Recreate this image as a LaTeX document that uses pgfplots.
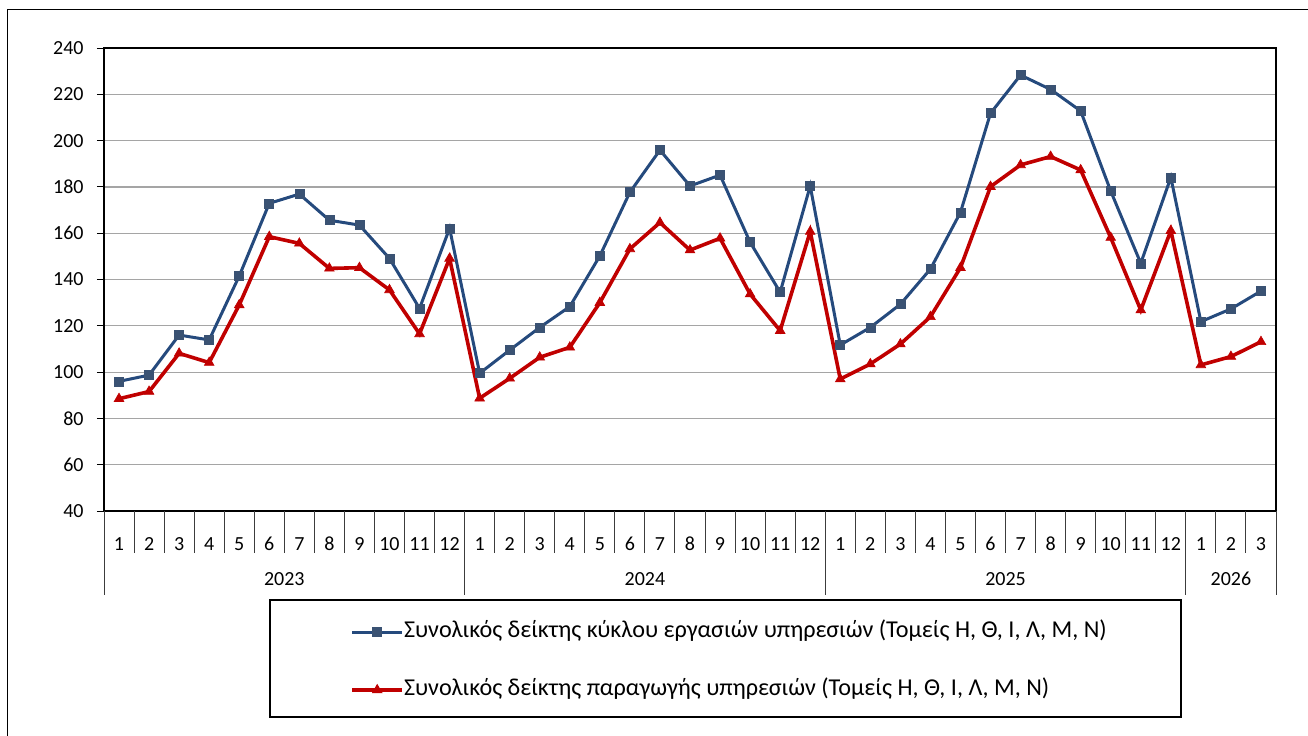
\documentclass[border=0pt]{standalone}
\usepackage{fontspec}
\setmainfont{Carlito}
\usepackage{pgfplots}
\pgfplotsset{compat=1.18}
\definecolor{lblue}{RGB}{37,74,125}
\definecolor{mblue}{RGB}{58,82,115}
\definecolor{lred}{RGB}{192,0,0}
\definecolor{gridc}{RGB}{165,165,165}
\definecolor{sepc}{RGB}{60,60,60}

\pgfplotstableread{
x blue red
0 96.0 88.5
1 98.7 91.6
2 116.0 108.1
3 113.9 104.1
4 141.5 129.0
5 172.9 158.5
6 176.9 155.6
7 165.6 144.8
8 163.5 145.1
9 149.1 135.5
10 127.5 116.5
11 162.1 149.1
12 99.5 88.7
13 109.5 97.3
14 119.3 106.4
15 128.3 110.7
16 150.2 130.0
17 177.7 153.2
18 195.9 164.6
19 180.4 152.7
20 185.1 157.8
21 156.1 133.7
22 134.5 117.9
23 180.4 160.7
24 111.7 97.0
25 119.3 103.5
26 129.3 112.1
27 144.5 123.9
28 169.0 145.1
29 211.8 180.1
30 228.3 189.5
31 222.1 193.1
32 212.8 187.3
33 178.2 158.1
34 147.0 126.8
35 184.1 161.1
36 121.8 103.1
37 127.3 106.7
38 135.0 113.1
}\datatable

\begin{document}
\begin{tikzpicture}
\useasboundingbox (0,0) rectangle (654pt,367.5pt);
\draw[black, line width=0.5pt] (3.5pt,-1pt) -- (3.5pt,362.5pt) -- (655pt,362.5pt);
\draw[black, line width=0.6pt] (135pt,9pt) rectangle (590.5pt,67.5pt);
\begin{axis}[
  at={(52pt,112pt)}, anchor=south west,
  scale only axis, width=586pt, height=231.5pt,
  xmin=-0.5, xmax=38.5, ymin=40, ymax=240,
  ytick={40,60,...,240},
  xtick={0,...,38},
  xticklabels={1,2,3,4,5,6,7,8,9,10,11,12,1,2,3,4,5,6,7,8,9,10,11,12,1,2,3,4,5,6,7,8,9,10,11,12,1,2,3},
  tick align=outside,
  major tick length=3.5pt,
  xtick style={draw=none},
  ytick style={black, line width=0.5pt},
  xtick pos=bottom, ytick pos=left,
  ymajorgrids,
  grid style={gridc, line width=0.6pt},
  axis line style={black, line width=1.4pt},
  /pgf/number format/assume math mode=true,
  tick label style={font=\fontsize{10}{12}\selectfont},
  yticklabel style={anchor=east, inner sep=0pt, xshift=-6.5pt},
  xticklabel style={anchor=base, inner sep=0pt, yshift=-16.25pt},
  clip=false,
  legend cell align=left,
  legend image code/.code={\draw[mark repeat=2,mark phase=2,#1] plot coordinates {(0pt,0pt) (12.5pt,0pt) (25pt,0pt)};},
  legend style={draw=none, fill=none, inner sep=0pt, at={(0.2099,-0.3240)}, anchor=west,
    row sep=17pt, column sep=0pt,
    nodes={inner sep=0pt, text height=8.7pt, text depth=3.3pt, font=\fontsize{12.1}{14}\selectfont}},
]
\addplot[lblue, line width=1.5pt, mark=square*, mark size=2.25pt, mark options={fill=mblue, draw=mblue, line width=0.3pt}] table[x=x, y=blue] {\datatable};
\addlegendentry{Συνολικός δείκτης κύκλου εργασιών υπηρεσιών (Τομείς Η, Θ, Ι, Λ, Μ, Ν)}
\addplot[lred, line width=1.8pt, mark=triangle*, mark size=2.8pt, mark options={fill=lred, draw=lred, line width=0.3pt}] table[x=x, y=red] {\datatable};
\addlegendentry{Συνολικός δείκτης παραγωγής υπηρεσιών (Τομείς Η, Θ, Ι, Λ, Μ, Ν)}
\pgfplotsinvokeforeach{0.5,1.5,2.5,3.5,4.5,5.5,6.5,7.5,8.5,9.5,10.5,12.5,13.5,14.5,15.5,16.5,17.5,18.5,19.5,20.5,21.5,22.5,24.5,25.5,26.5,27.5,28.5,29.5,30.5,31.5,32.5,33.5,34.5,36.5,37.5}{
  \draw[sepc, line width=0.5pt] (axis cs:#1,40) -- ([yshift=-21pt]axis cs:#1,40);
}
\pgfplotsinvokeforeach{-0.5,11.5,23.5,35.5,38.5}{
  \draw[sepc, line width=0.5pt] (axis cs:#1,40) -- ([yshift=-42pt]axis cs:#1,40);
}
\node[font=\fontsize{10}{12}\selectfont, anchor=base] at ([yshift=-37pt]axis cs:5.5,40) {2023};
\node[font=\fontsize{10}{12}\selectfont, anchor=base] at ([yshift=-37pt]axis cs:17.5,40) {2024};
\node[font=\fontsize{10}{12}\selectfont, anchor=base] at ([yshift=-37pt]axis cs:29.5,40) {2025};
\node[font=\fontsize{10}{12}\selectfont, anchor=base] at ([yshift=-37pt]axis cs:37,40) {2026};
\end{axis}
\end{tikzpicture}
\end{document}
